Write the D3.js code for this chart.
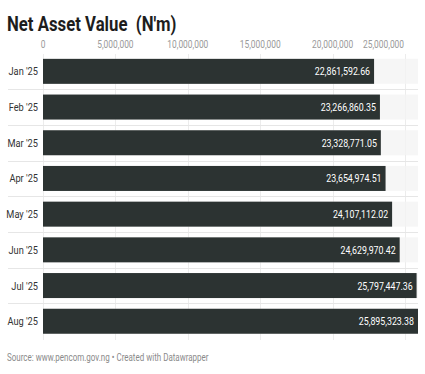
<!DOCTYPE html>
<html>
<head>
<meta charset="utf-8">
<script src="https://cdn.jsdelivr.net/npm/d3@7"></script>
<style>
body{margin:0;background:#fff;}
svg{display:block;}
text{font-family:Roboto,sans-serif;}
</style>
</head>
<body>
<div id="chart"></div>
<script>
var months = ["Jan '25","Feb '25","Mar '25","Apr '25","May '25","Jun '25","Jul '25","Aug '25"];
var values = [22861592.66, 23266860.35, 23328771.05, 23654974.51, 24107112.02, 24629970.42, 25797447.36, 25895323.38];
var tickValues = [0, 5000000, 10000000, 15000000, 20000000, 25000000];

var width = 425, height = 374;
var left = 43, right = 418;
var squeeze = 0.8; // no condensed font installed, so narrow the glyphs

var svg = d3.select('#chart').append('svg')
    .attr('width', width)
    .attr('height', height);

// append a horizontally squeezed text at (px, py)
function condText(parent, px, py, scale){
    return parent.append('g')
        .attr('transform', 'translate(' + px + ',' + py + ') scale(' + scale + ',1)')
        .append('text');
}

condText(svg, 7, 31, 0.86)
    .attr('font-weight', 700)
    .attr('font-size', '19.5px')
    .attr('fill', '#1d1d1d')
    .text("Net Asset Value\u00a0\u00a0(N'm)");

var x = d3.scaleLinear()
    .domain([0, d3.max(values)])
    .range([left, right]);

var y = d3.scaleBand()
    .domain(months)
    .range([53.5, 339.1])
    .paddingInner(0.3)
    .paddingOuter(0.15);

// vertical gridlines
svg.append('g').selectAll('line')
    .data(tickValues)
    .enter().append('line')
    .attr('x1', function(d){ return Math.round(x(d)) + 0.5; })
    .attr('x2', function(d){ return Math.round(x(d)) + 0.5; })
    .attr('y1', 54).attr('y2', 340)
    .attr('stroke', '#ececec');

// row separators
svg.append('g').selectAll('line')
    .data(months.slice(1))
    .enter().append('line')
    .attr('x1', 8).attr('x2', right)
    .attr('y1', function(d){ return Math.round(y(d) - y.step() * 0.15) + 0.5; })
    .attr('y2', function(d){ return Math.round(y(d) - y.step() * 0.15) + 0.5; })
    .attr('stroke', '#e6e6e6');

// x tick labels
var tickG = svg.append('g');
tickValues.forEach(function(d, i){
    var last = i == tickValues.length - 1;
    condText(tickG, last ? x(d) - 1 : x(d), 48, squeeze)
        .attr('text-anchor', last ? 'end' : 'middle')
        .attr('font-size', '10.5px')
        .attr('fill', '#9a9a9a')
        .text(d3.format(',')(d));
});

var rows = svg.append('g').selectAll('g')
    .data(months)
    .enter().append('g')
    .attr('transform', function(d){ return 'translate(0,' + y(d) + ')'; });

// background band
rows.append('rect')
    .attr('x', left).attr('y', 0)
    .attr('width', x(d3.max(values)) - left)
    .attr('height', y.bandwidth())
    .attr('fill', '#f4f4f4')
    .attr('opacity', 0.8);

rows.append('rect')
    .attr('x', left).attr('y', 0)
    .attr('width', function(d, i){ return x(values[i]) - left; })
    .attr('height', y.bandwidth())
    .attr('fill', '#2c3332');

rows.each(function(d, i){
    var row = d3.select(this);
    condText(row, 38, y.bandwidth() / 2 + 4, 0.84)
        .attr('text-anchor', 'end')
        .attr('font-size', '11px')
        .attr('fill', '#333')
        .text(d);
    condText(row, x(values[i]) - 4, y.bandwidth() / 2 + 4, squeeze)
        .attr('text-anchor', 'end')
        .attr('font-size', '11px')
        .attr('fill', '#fff')
        .text(d3.format(',.2f')(values[i]));
});

condText(svg, 7, 361, 0.8)
    .attr('font-size', '10px')
    .attr('fill', '#8a8a8a')
    .text('Source: www.pencom.gov.ng \u2022 Created with Datawrapper');
</script>
</body>
</html>
